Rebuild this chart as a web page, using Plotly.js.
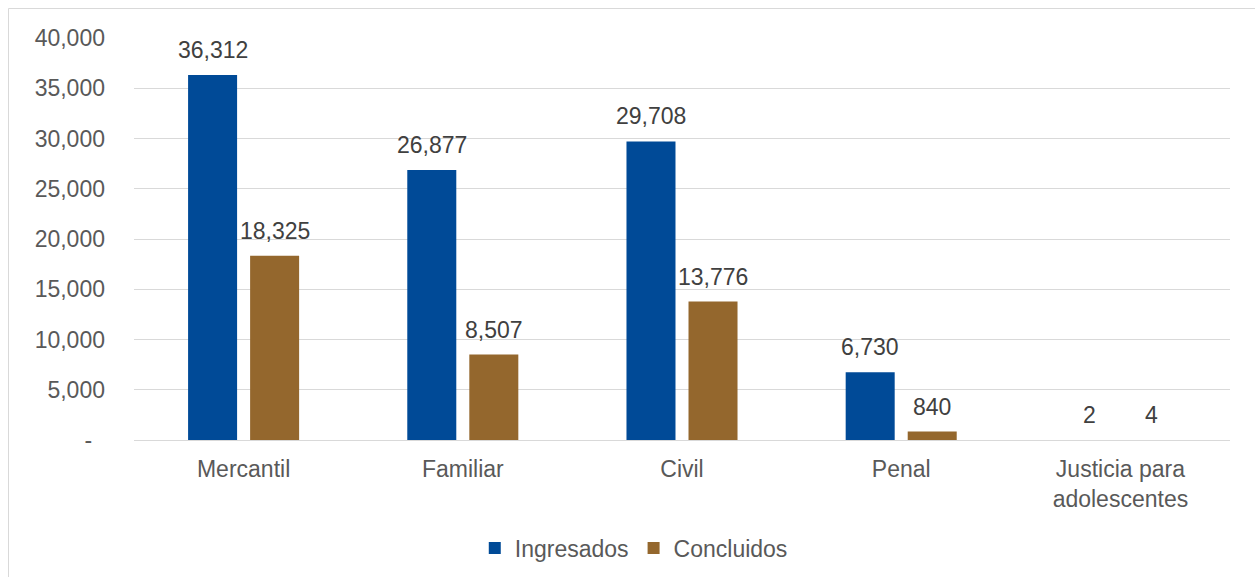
<!DOCTYPE html>
<html>
<head>
<meta charset="utf-8">
<script src="https://cdn.plot.ly/plotly-3.0.1.min.js"></script>
<style>
  html, body { margin: 0; padding: 0; background: #ffffff; }
  #chart { width: 1255px; height: 577px; }
</style>
</head>
<body>
<div id="chart"></div>
<script>
const categories = ["Mercantil", "Familiar", "Civil", "Penal", "Justicia para<br>adolescentes"];
const ingresados = [36312, 26877, 29708, 6730, 2];
const concluidos = [18325, 8507, 13776, 840, 4];
const yTickVals = [0, 5000, 10000, 15000, 20000, 25000, 30000, 35000, 40000];
const yTickText = ["-\u00a0\u00a0", "5,000", "10,000", "15,000", "20,000", "25,000", "30,000", "35,000", "40,000"];

const FONT = "Liberation Sans, Arial, sans-serif";
const fmt = v => v.toLocaleString("en-US");

const traces = [
  { type: "bar", name: "Ingresados", x: categories, y: ingresados,
    marker: { color: "#004A97" }, hoverinfo: "skip" },
  { type: "bar", name: "Concluidos", x: categories, y: concluidos,
    marker: { color: "#94672D" }, hoverinfo: "skip" }
];

const annotations = [];
const series = [[ingresados, -31], [concluidos, 31]];
series.forEach(([vals, dx]) => {
  vals.forEach((v, i) => {
    annotations.push({
      x: categories[i], y: v, xref: "x", yref: "y",
      text: fmt(v), showarrow: false, xshift: dx, yshift: 10,
      yanchor: "bottom", font: { family: FONT, size: 23, color: "#404040" }
    });
  });
});

const layout = {
  width: 1255, height: 577,
  margin: { l: 134, r: 25, t: 38, b: 137 },
  paper_bgcolor: "#ffffff", plot_bgcolor: "#ffffff",
  font: { family: FONT, size: 23, color: "#595959" },
  barmode: "group", bargap: 0.434, bargroupgap: 0.21,
  showlegend: true,
  legend: { orientation: "h", xref: "container", yref: "container",
    x: 0.505, xanchor: "center", y: 0.05, yanchor: "middle",
    font: { family: FONT, size: 23, color: "#595959" } },
  xaxis: { showgrid: false, showline: true, linecolor: "#d9d9d9", linewidth: 1,
    ticks: "", ticklabelstandoff: 8, tickfont: { family: FONT, size: 23, color: "#595959" } },
  yaxis: { range: [0, 40000], tickvals: yTickVals, ticktext: yTickText,
    showgrid: true, gridcolor: "#d9d9d9", gridwidth: 1, zeroline: false,
    showline: false, ticks: "", ticklabelstandoff: 28,
    tickfont: { family: FONT, size: 23, color: "#595959" } },
  shapes: [{ type: "rect", xref: "paper", yref: "paper",
    x0: -0.1145, x1: 1.2, y0: -0.6, y1: 1.0734,
    line: { color: "#d9d9d9", width: 1 }, fillcolor: "rgba(0,0,0,0)", layer: "below" }],
  annotations: annotations
};

Plotly.newPlot("chart", traces, layout, { displayModeBar: false, staticPlot: true });
</script>
</body>
</html>
